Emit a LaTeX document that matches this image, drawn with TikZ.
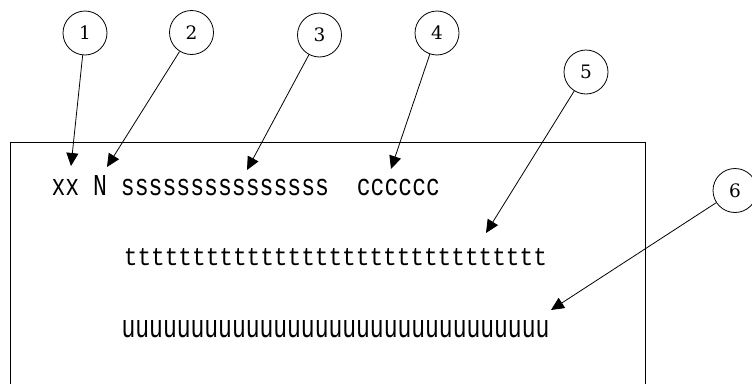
\documentclass[tikz,border=0pt]{standalone}
\usepackage{fontspec}
\newfontfamily\monof{Liberation Mono}
\newfontfamily\digf{DejaVu Serif}
\usetikzlibrary{arrows.meta}
\begin{document}
\begin{tikzpicture}[x=1pt,y=-1pt,
  circ/.style={circle,draw,line width=0.8pt,minimum size=44pt,inner sep=0pt,font=\digf\fontsize{18.5pt}{18.5pt}\selectfont},
  arr/.style={-{Triangle[length=13pt,width=12pt]},line width=0.8pt},
  txt/.style={anchor=base west,inner sep=0pt,outer sep=0pt},
  frame/.style={line width=0.8pt}]
\useasboundingbox (0,0) rectangle (752,383);
\draw[frame] (10,390) -- (10,142) -- (645,142) -- (645,390);
\node[circ] (c1) at (85,33) {1};
\node[circ] (c2) at (191.5,32.5) {2};
\node[circ] (c3) at (319.5,35) {3};
\node[circ] (c4) at (437,33) {4};
\node[circ] (c5) at (586,72) {5};
\node[circ] (c6) at (735,190.5) {6};
\node[txt] (r1) at (51.6,195) {\resizebox{388.4pt}{20pt}{\monof xx\ N\ sssssssssssssss\ \ cccccc}};
\node[txt] (r2) at (123.9,265) {\resizebox{423pt}{17pt}{\monof ttttttttttttttttttttttttttttttt}};
\node[txt] (r3) at (121.6,337) {\resizebox{427.8pt}{17pt}{\monof uuuuuuuuuuuuuuuuuuuuuuuuuuuuuuu}};
\coordinate (t1) at (71,166);
\coordinate (t2) at (107,167);
\coordinate (t3) at (247,170);
\coordinate (t4) at (391,169);
\coordinate (t5) at (486,233);
\coordinate (t6) at (551,310);
\draw[arr] (c1) -- (t1);
\draw[arr] (c2) -- (t2);
\draw[arr] (c3) -- (t3);
\draw[arr] (c4) -- (t4);
\draw[arr] (c5) -- (t5);
\draw[arr] (c6) -- (t6);
\end{tikzpicture}
\end{document}
